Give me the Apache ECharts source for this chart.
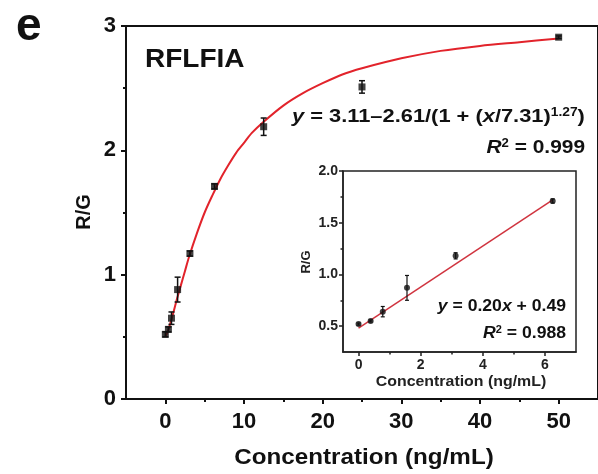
<!DOCTYPE html>
<html><head><meta charset="utf-8">
<script src="https://cdn.jsdelivr.net/npm/echarts@6/dist/echarts.min.js"></script>
<style>html,body{margin:0;padding:0;background:#fff}#c{width:598px;height:474px}</style>
</head><body><div id="c"></div>
<script>
// ---- data ----
const mainX = [0, 0.39, 0.78, 1.56, 3.125, 6.25, 12.5, 25, 50];
const mainY = [0.52, 0.56, 0.65, 0.88, 1.17, 1.71, 2.19, 2.51, 2.91];
const mainErr = [0.02, 0.02, 0.05, 0.10, 0.02, 0.02, 0.07, 0.05, 0.01];
const curveX = [0, 0.25, 0.5, 1, 1.5, 2, 2.5, 3, 4, 5, 6, 7, 8, 9, 10, 11, 12.5, 15, 17.5, 20, 22.5, 25, 30, 35, 40, 45, 50];
const curveY = [0.50, 0.535, 0.58, 0.69, 0.81, 0.92, 1.03, 1.14, 1.33, 1.50, 1.64, 1.77, 1.88, 1.98, 2.06, 2.14, 2.23, 2.36, 2.46, 2.54, 2.61, 2.66, 2.74, 2.80, 2.84, 2.87, 2.90];
const insetX = [0, 0.39, 0.78, 1.56, 3.125, 6.25];
const insetY = [0.52, 0.55, 0.64, 0.87, 1.18, 1.71];
const insetErr = [0.01, 0.01, 0.05, 0.12, 0.03, 0.02];
const lineX = [0, 6.25];
const lineY = [0.48, 1.72];
const mainXTicks = [0, 10, 20, 30, 40, 50];
const mainXMinor = [5, 15, 25, 35, 45];
const insetXTicks = [0, 2, 4, 6];
const insetXMinor = [1, 3, 5];
const insetYTicks = [0.5, 1.0, 1.5, 2.0];
const insetYMinor = [0.75, 1.25, 1.75];

const FONT = '"Liberation Sans", Arial, sans-serif';
const RED = '#e2232b';

function errData(xs, ys, es) { return xs.map((x, i) => [x, ys[i], ys[i] - es[i], ys[i] + es[i]]); }
function errRender(cap, w) {
  return function (params, api) {
    const x = api.value(0), lo = api.value(2), hi = api.value(3);
    const a = api.coord([x, lo]), b = api.coord([x, hi]);
    const st = { stroke: '#111', lineWidth: w };
    return { type: 'group', children: [
      { type: 'line', shape: { x1: a[0], y1: a[1], x2: b[0], y2: b[1] }, style: st },
      { type: 'line', shape: { x1: a[0] - cap, y1: a[1], x2: a[0] + cap, y2: a[1] }, style: st },
      { type: 'line', shape: { x1: b[0] - cap, y1: b[1], x2: b[0] + cap, y2: b[1] }, style: st }
    ] };
  };
}

const chart = echarts.init(document.getElementById('c'), null, { renderer: 'canvas' });
const axLine = (w, c) => ({ show: true, onZero: false, lineStyle: { color: c, width: w } });
const noLine = { show: false, onZero: false };

chart.setOption({
  animation: false,
  backgroundColor: '#fff',
  grid: [
    { left: 126, top: 26, width: 476, height: 373, show: true, borderColor: '#111', borderWidth: 2, backgroundColor: 'transparent' },
    { left: 343, top: 171, width: 233, height: 181, show: true, borderColor: '#222', borderWidth: 1.5, backgroundColor: '#fff' }
  ],
  xAxis: [
    { gridIndex: 0, type: 'value', min: -5, max: 55, axisLine: axLine(2, '#111'), splitLine: { show: false },
      axisTick: { show: true, length: 5, lineStyle: { color: '#111', width: 2 }, customValues: mainXTicks },
      axisLabel: { customValues: mainXTicks, margin: 12, color: '#111', fontSize: 22, fontWeight: 'bold', fontFamily: FONT } },
    { gridIndex: 0, type: 'value', min: -5, max: 55, position: 'bottom', axisLine: noLine, splitLine: { show: false },
      axisTick: { show: true, length: 3, lineStyle: { color: '#111', width: 2 }, customValues: mainXMinor },
      axisLabel: { show: false } },
    { gridIndex: 1, type: 'value', min: -0.5, max: 7, axisLine: axLine(1.5, '#222'), splitLine: { show: false },
      axisTick: { show: true, length: 4, lineStyle: { color: '#222', width: 1.5 }, customValues: insetXTicks },
      axisLabel: { customValues: insetXTicks, margin: 6, color: '#222', fontSize: 14, fontWeight: 'bold', fontFamily: FONT } },
    { gridIndex: 1, type: 'value', min: -0.5, max: 7, position: 'bottom', axisLine: noLine, splitLine: { show: false },
      axisTick: { show: true, length: 2.5, lineStyle: { color: '#222', width: 1.5 }, customValues: insetXMinor },
      axisLabel: { show: false } }
  ],
  yAxis: [
    { gridIndex: 0, type: 'value', min: 0, max: 3, interval: 1, axisLine: axLine(2, '#111'), splitLine: { show: false },
      axisTick: { show: true, length: 5, lineStyle: { color: '#111', width: 2 } },
      minorTick: { show: true, splitNumber: 2, length: 3, lineStyle: { color: '#111', width: 2 } },
      axisLabel: { margin: 10, color: '#111', fontSize: 22, fontWeight: 'bold', fontFamily: FONT } },
    { gridIndex: 1, type: 'value', min: 0.25, max: 2.0, axisLine: axLine(1.5, '#222'), splitLine: { show: false },
      axisTick: { show: true, length: 4, lineStyle: { color: '#222', width: 1.5 }, customValues: insetYTicks },
      axisLabel: { customValues: insetYTicks, margin: 5, color: '#222', fontSize: 14, fontWeight: 'bold', fontFamily: FONT,
        formatter: v => Number(v).toFixed(1) } },
    { gridIndex: 1, type: 'value', min: 0.25, max: 2.0, position: 'left', axisLine: noLine, splitLine: { show: false },
      axisTick: { show: true, length: 2.5, lineStyle: { color: '#222', width: 1.5 }, customValues: insetYMinor },
      axisLabel: { show: false } }
  ],
  series: [
    { type: 'line', xAxisIndex: 0, yAxisIndex: 0, data: curveX.map((x, i) => [x, curveY[i]]), smooth: 0.3,
      showSymbol: false, lineStyle: { color: RED, width: 2 }, z: 2 },
    { type: 'custom', xAxisIndex: 0, yAxisIndex: 0, data: errData(mainX, mainY, mainErr), renderItem: errRender(3, 1.5), z: 3 },
    { type: 'scatter', xAxisIndex: 0, yAxisIndex: 0, data: mainX.map((x, i) => [x, mainY[i]]), symbol: 'rect', symbolSize: 7,
      itemStyle: { color: '#111' }, z: 4 },
    { type: 'line', xAxisIndex: 2, yAxisIndex: 1, data: lineX.map((x, i) => [x, lineY[i]]), showSymbol: false,
      lineStyle: { color: '#d0343f', width: 1.5 }, z: 12 },
    { type: 'custom', xAxisIndex: 2, yAxisIndex: 1, data: errData(insetX, insetY, insetErr), renderItem: errRender(2, 1.2), z: 13 },
    { type: 'scatter', xAxisIndex: 2, yAxisIndex: 1, data: insetX.map((x, i) => [x, insetY[i]]), symbol: 'circle', symbolSize: 6,
      itemStyle: { color: '#111' }, z: 14 }
  ],
  graphic: [
    { type: 'text', left: 16, top: 4, style: { text: 'e', font: 'bold 46px ' + FONT, fill: '#111' } },
    { type: 'text', x: 145, y: 60, scaleX: 1.12, style: { text: 'RFLFIA', font: 'bold 25px ' + FONT, fill: '#111', verticalAlign: 'middle' } },
    { type: 'text', x: 292, y: 117, scaleX: 1.15, style: {
        text: '{i|y} = 3.11–2.61/(1 + ({i|x}/7.31){s|1.27})', fill: '#111', verticalAlign: 'middle',
        font: 'bold 19px ' + FONT,
        rich: { i: { font: 'italic bold 19px ' + FONT, fill: '#111' }, s: { font: 'bold 12px ' + FONT, fill: '#111', padding: [0, 0, 9, 0] } } } },
    { type: 'text', x: 585, y: 148, scaleX: 1.1, style: {
        text: '{i|R}{s|2} = 0.999', fill: '#111', align: 'right', verticalAlign: 'middle', font: 'bold 19px ' + FONT,
        rich: { i: { font: 'italic bold 19px ' + FONT, fill: '#111' }, s: { font: 'bold 12px ' + FONT, fill: '#111', padding: [0, 0, 9, 0] } } } },
    { type: 'text', x: 84, y: 212, rotation: Math.PI / 2, style: { text: 'R/G', font: 'bold 20px ' + FONT, fill: '#111', align: 'center', verticalAlign: 'middle' } },
    { type: 'text', x: 364, y: 458, scaleX: 1.1, style: { text: 'Concentration (ng/mL)', font: 'bold 22px ' + FONT, fill: '#111', align: 'center', verticalAlign: 'middle' } },
    { type: 'text', x: 306, y: 262, rotation: Math.PI / 2, style: { text: 'R/G', font: 'bold 13px ' + FONT, fill: '#222', align: 'center', verticalAlign: 'middle' } },
    { type: 'text', x: 461, y: 382, scaleX: 1.06, style: { text: 'Concentration (ng/mL)', font: 'bold 15px ' + FONT, fill: '#222', align: 'center', verticalAlign: 'middle' } },
    { type: 'text', x: 566, y: 307, z: 20, scaleX: 1.1, style: {
        text: '{i|y} = 0.20{i|x} + 0.49', fill: '#111', align: 'right', verticalAlign: 'middle', font: 'bold 16px ' + FONT,
        rich: { i: { font: 'italic bold 16px ' + FONT, fill: '#111' } } } },
    { type: 'text', x: 566, y: 334, z: 20, scaleX: 1.1, style: {
        text: '{i|R}{s|2} = 0.988', fill: '#111', align: 'right', verticalAlign: 'middle', font: 'bold 16px ' + FONT,
        rich: { i: { font: 'italic bold 16px ' + FONT, fill: '#111' }, s: { font: 'bold 10px ' + FONT, fill: '#111', padding: [0, 0, 8, 0] } } } }
  ]
});
</script></body></html>
